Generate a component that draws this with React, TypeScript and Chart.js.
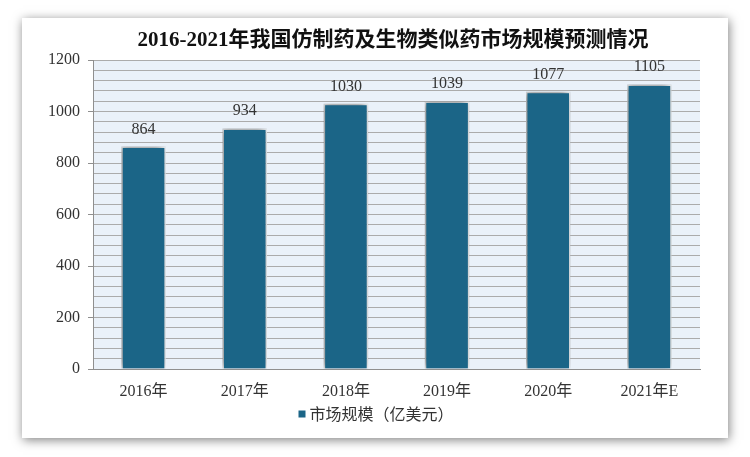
import React, { useEffect, useRef } from "react";
import { Chart, registerables } from "chart.js";

Chart.register(...registerables);

const categories = ["2016年", "2017年", "2018年", "2019年", "2020年", "2021年E"];
const marketSize = [864, 934, 1030, 1039, 1077, 1105];
const seriesName = "市场规模（亿美元）";
const titleText = "2016-2021年我国仿制药及生物类似药市场规模预测情况";
const yMin = 0;
const yMax = 1200;
const yMajorStep = 200;
const yMinorStep = 40;

const BAR_COLOR = "#1b6587";
const TEXT_COLOR = "#333333";
const SERIF = "'Liberation Serif', 'Noto Sans CJK SC', serif";

const decorPlugin = {
  id: "decor",
  beforeDraw(chart: any) {
    const { ctx, chartArea } = chart;
    ctx.save();
    ctx.fillStyle = "#ffffff";
    ctx.fillRect(0, 0, chart.width, chart.height);
    // card with shadow
    ctx.shadowColor = "rgba(0,0,0,0.5)";
    ctx.shadowBlur = 10;
    ctx.shadowOffsetX = 1;
    ctx.shadowOffsetY = 2;
    ctx.fillStyle = "#ffffff";
    ctx.fillRect(22, 18, 706, 420);
    ctx.shadowColor = "transparent";
    ctx.shadowBlur = 0;
    ctx.shadowOffsetX = 0;
    ctx.shadowOffsetY = 0;
    // plot background
    ctx.fillStyle = "#eaf1f9";
    ctx.fillRect(chartArea.left, chartArea.top, chartArea.right - chartArea.left, chartArea.bottom - chartArea.top);
    // title
    ctx.fillStyle = "#111111";
    ctx.font = "bold 21px " + SERIF;
    ctx.textAlign = "center";
    ctx.textBaseline = "middle";
    ctx.fillText(titleText, 393, 41);
    // legend
    const legendText = seriesName;
    ctx.font = "16px 'Noto Sans CJK SC', sans-serif";
    const tw = ctx.measureText(legendText).width;
    const box = 7;
    const gap = 4;
    const total = box + gap + tw;
    const startX = 376 - total / 2;
    const cy = 414;
    ctx.fillStyle = BAR_COLOR;
    ctx.fillRect(startX, cy - box / 2, box, box);
    ctx.fillStyle = TEXT_COLOR;
    ctx.textAlign = "left";
    ctx.fillText(legendText, startX + box + gap, cy);
    ctx.restore();
  },
  beforeDatasetsDraw(chart: any) {
    const ctx = chart.ctx;
    ctx.save();
    ctx.shadowColor = "rgba(0,0,0,0.5)";
    ctx.shadowBlur = 8;
    ctx.shadowOffsetX = -2;
    ctx.shadowOffsetY = -1;
  },
  afterDatasetsDraw(chart: any) {
    const ctx = chart.ctx;
    ctx.restore();
    ctx.save();
    ctx.fillStyle = TEXT_COLOR;
    ctx.font = "16px " + SERIF;
    ctx.textAlign = "center";
    ctx.textBaseline = "alphabetic";
    const meta = chart.getDatasetMeta(0);
    meta.data.forEach((bar: any, i: number) => {
      ctx.fillText(String(chart.data.datasets[0].data[i]), bar.x, bar.y - 13);
    });
    ctx.restore();
  },
};

export default function App() {
  const ref = useRef<HTMLCanvasElement | null>(null);
  useEffect(() => {
    if (!ref.current) return;
    const chart = new Chart(ref.current, {
      type: "bar",
      data: {
        labels: categories,
        datasets: [
          {
            label: seriesName,
            data: marketSize,
            backgroundColor: BAR_COLOR,
            borderColor: "#f4f8fb",
            borderWidth: 1.5,
            categoryPercentage: 1,
            barPercentage: 0.44,
          },
        ],
      },
      options: {
        responsive: false,
        animation: false,
        layout: { padding: { top: 60, right: 50, bottom: 0, left: 0 } },
        plugins: {
          legend: { display: false },
          title: { display: false },
          tooltip: { enabled: false },
        },
        scales: {
          x: {
            grid: { display: false, drawTicks: false },
            border: { display: true, color: "#8f8f8f", width: 1 },
            ticks: {
              color: TEXT_COLOR,
              font: { family: SERIF, size: 16 },
              padding: 13,
            },
            afterFit(scale: any) {
              scale.height = 88;
              scale.paddingLeft = 0;
              scale.paddingRight = 0;
            },
          },
          y: {
            min: yMin,
            max: yMax,
            ticks: {
              stepSize: yMinorStep,
              autoSkip: false,
              color: TEXT_COLOR,
              font: { family: SERIF, size: 16 },
              padding: 8,
              callback: (v: any) => (Number(v) % yMajorStep === 0 ? String(v) : ""),
            },
            grid: {
              color: "#ababab",
              lineWidth: 1,
              tickLength: 5,
              tickColor: (c: any) =>
                c.tick && c.tick.value % yMajorStep === 0 ? "#8f8f8f" : "rgba(0,0,0,0)",
            },
            border: { display: true, color: "#8f8f8f", width: 1 },
            afterFit(scale: any) {
              scale.width = 93;
              scale.paddingTop = 0;
              scale.paddingBottom = 0;
            },
          },
        },
      },
      plugins: [decorPlugin],
    });
    return () => chart.destroy();
  }, []);
  return (
    <div style={{ position: "absolute", left: 0, top: 0, width: 750, height: 457 }}>
      <canvas ref={ref} width={750} height={457} />
    </div>
  );
}
